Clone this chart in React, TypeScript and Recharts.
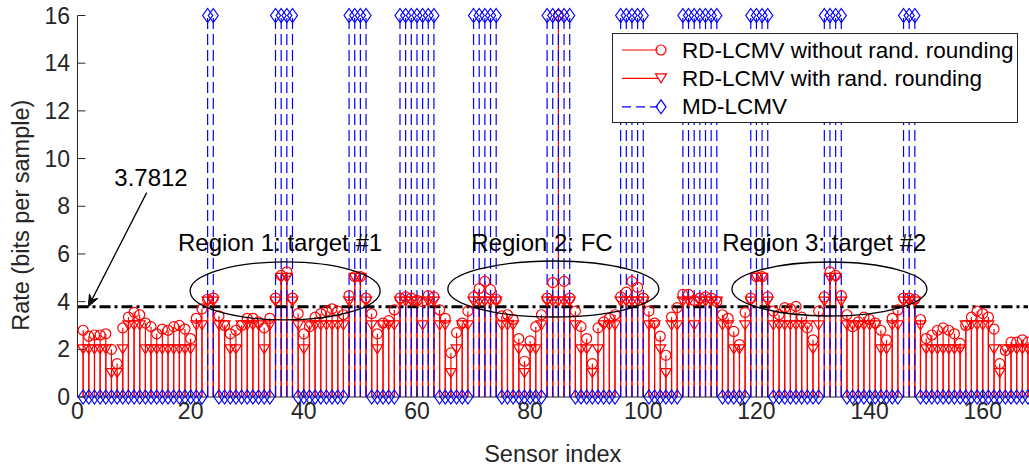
import React from "react";
import { ComposedChart, ErrorBar, ReferenceDot, ReferenceLine, Scatter, XAxis, YAxis } from "recharts";

if (typeof document !== "undefined") document.body.style.margin = "0";

const FONT = '"Liberation Sans", Arial, Helvetica, sans-serif';
const AXIS = "#262626";

// sensor numbers 1..168
const sensors = Array.from({ length: 168 }, (_, i) => i + 1);

// RD-LCMV without randomized rounding (circles)
const rdPlain = [
  2.8, 2.55, 2.6, 2.6, 2.65, 2.0, 1.4, 2.9, 3.35, 3.55,
  3.45, 3.1, 2.95, 2.65, 2.85, 2.8, 2.95, 3.0, 2.85, 2.45,
  3.3, 3.7, 4.1, 4.15, 3.4, 3.0, 2.65, 2.8, 3.0, 3.3,
  3.3, 3.15, 2.9, 3.3, 4.15, 5.1, 5.25, 4.15, 3.5, 2.65,
  2.95, 3.35, 3.5, 3.6, 3.7, 3.6, 3.45, 4.25, 5.05, 5.05,
  4.15, 3.5, 2.65, 3.1, 3.2, 3.65, 4.15, 4.2, 4.15, 4.05,
  4.0, 4.25, 4.2, 3.65, 3.3, 1.85, 2.7, 3.1, 3.6, 4.2,
  4.55, 4.85, 4.5, 4.1, 3.4, 3.45, 3.25, 2.45, 1.5, 2.35,
  2.95, 3.45, 4.15, 4.8, 16, 4.85, 4.15, 3.6, 2.95, 2.45,
  1.4, 2.9, 3.15, 3.3, 3.45, 4.2, 4.4, 4.85, 4.6, 4.15,
  3.6, 3.1, 2.55, 1.75, 3.35, 3.75, 4.3, 4.3, 4.05, 4.15,
  4.2, 4.15, 4.0, 3.45, 3.3, 2.75, 2.2, 3.55, 4.15, 5.05,
  5.05, 4.2, 3.6, 3.45, 3.75, 3.7, 3.8, 3.35, 2.9, 2.4,
  3.6, 4.2, 5.25, 5.1, 4.25, 3.45, 2.95, 3.15, 3.35, 3.25,
  3.1, 2.8, 2.4, 3.3, 3.65, 4.15, 4.15, 4.1, 3.25, 2.45,
  2.6, 2.8, 2.9, 2.8, 2.65, 2.25, 3.0, 3.35, 3.6, 3.5,
  3.35, 2.85, 1.4, 1.95, 2.3, 2.3, 2.4, 2.3
];

// RD-LCMV with randomized rounding (triangles)
const rdRand = [
  2, 2, 2, 2, 2, 1, 1, 2, 3, 3,
  3, 2, 2, 2, 2, 2, 2, 2, 2, 2,
  3, 3, 4, 4, 3, 3, 2, 2, 3, 3,
  3, 3, 2, 3, 4, 5, 5, 4, 3, 2,
  3, 3, 3, 3, 3, 3, 3, 4, 5, 5,
  4, 3, 2, 3, 3, 3, 4, 4, 4, 4,
  3, 4, 4, 3, 3, 1, 2, 3, 3, 4,
  4, 4, 4, 4, 3, 3, 3, 2, 1, 2,
  2, 3, 4, 4, 4, 4, 4, 3, 2, 2,
  1, 2, 3, 3, 3, 4, 4, 4, 4, 4,
  3, 3, 2, 1, 3, 3, 4, 4, 3, 4,
  4, 4, 4, 3, 3, 2, 2, 3, 4, 5,
  5, 4, 3, 3, 3, 3, 3, 3, 3, 2,
  3, 4, 5, 5, 4, 3, 3, 3, 3, 3,
  3, 2, 2, 3, 3, 4, 4, 4, 3, 2,
  2, 2, 2, 2, 2, 2, 3, 3, 3, 3,
  3, 2, 1, 2, 2, 2, 2, 2
];

// sensors where MD-LCMV spends the full 16 bits (others: 0)
const mdFull = [
  23, 24, 35, 36, 37, 38, 48, 49, 50, 51, 57, 58, 59, 60, 61, 62, 63,
  70, 71, 72, 73, 74, 83, 84, 85, 86, 87, 96, 97, 98, 99, 100,
  107, 108, 109, 110, 111, 112, 113, 119, 120, 121, 122, 132, 133, 134, 135,
  146, 147, 148
];
const mdRate = sensors.map((s) => (mdFull.includes(s) ? 16 : 0));

const xTicks = [0, 20, 40, 60, 80, 100, 120, 140, 160];
const yTicks = [0, 2, 4, 6, 8, 10, 12, 14, 16];
const threshold = 3.7812;

const regionNames = ["Region 1: target #1", "Region 2: FC", "Region 3: target #2"];

const toRows = (vals: number[]) => sensors.map((s, i) => ({ x: s, y: vals[i], stem: [vals[i], 0] }));
const plainRows = toRows(rdPlain);
const randRows = toRows(rdRand);
const mdRows = toRows(mdRate);

const RED = "#ff0000";
const BLUE = "#0000ff";

const circleShape = (p: any) => <circle cx={p.cx} cy={p.cy} r={5} fill="none" stroke={RED} strokeWidth={1.2} />;
const triShape = (p: any) => (
  <path d={`M${p.cx - 5.5},${p.cy - 4.5}L${p.cx + 5.5},${p.cy - 4.5}L${p.cx},${p.cy + 4.5}Z`} fill="none" stroke={RED} strokeWidth={1.2} />
);
const diamondShape = (p: any) => (
  <path d={`M${p.cx},${p.cy - 7}L${p.cx + 5},${p.cy}L${p.cx},${p.cy + 7}L${p.cx - 5},${p.cy}Z`} fill="none" stroke={BLUE} strokeWidth={1.2} />
);

const ellipseAt = (rx: number, ry: number) => (p: any) => (
  <ellipse cx={p.cx} cy={p.cy} rx={rx} ry={ry} fill="none" stroke="#000" strokeWidth={1.3} />
);
const textAt = (label: string) => (p: any) => (
  <text x={p.cx} y={p.cy} textAnchor="middle" dominantBaseline="central" fontFamily={FONT} fontSize={24} fill="#000">
    {label}
  </text>
);

const arrowShape = (p: any) => {
  const { x1, y1, x2, y2 } = p;
  const a = Math.atan2(y2 - y1, x2 - x1);
  const L = 13;
  const w = 0.38;
  const hx1 = x2 - L * Math.cos(a - w);
  const hy1 = y2 - L * Math.sin(a - w);
  const hx2 = x2 - L * Math.cos(a + w);
  const hy2 = y2 - L * Math.sin(a + w);
  const bx = x2 - L * 0.6 * Math.cos(a);
  const by = y2 - L * 0.6 * Math.sin(a);
  return (
    <g>
      <line x1={x1} y1={y1} x2={bx} y2={by} stroke="#000" strokeWidth={1.3} />
      <path d={`M${x2},${y2}L${hx1},${hy1}L${bx},${by}L${hx2},${hy2}Z`} fill="#000" stroke="#000" />
    </g>
  );
};

function LegendBox() {
  const rows = [
    { name: "RD-LCMV without rand. rounding", color: RED, dash: undefined, mark: "o" },
    { name: "RD-LCMV with rand. rounding", color: RED, dash: undefined, mark: "v" },
    { name: "MD-LCMV", color: BLUE, dash: "9 5", mark: "d" }
  ];
  return (
    <svg width={407} height={91} style={{ position: "absolute", left: 612, top: 33 }}>
      <rect x={0.5} y={0.5} width={405} height={89} fill="#fff" stroke={AXIS} strokeWidth={1} />
      {rows.map((r, i) => {
        const cy = 17 + i * 28.4;
        return (
          <g key={r.name}>
            <line x1={10} y1={cy} x2={46} y2={cy} stroke={r.color} strokeWidth={1.2} strokeDasharray={r.dash} />
            {r.mark === "o" && circleShape({ cx: 49, cy })}
            {r.mark === "v" && triShape({ cx: 49, cy })}
            {r.mark === "d" && diamondShape({ cx: 49, cy })}
            <text x={70} y={cy} dominantBaseline="central" fontFamily={FONT} fontSize={22.5} fill="#000">
              {r.name}
            </text>
          </g>
        );
      })}
    </svg>
  );
}

const yLabel = (p: any) => {
  const vb = p.viewBox;
  const cx = vb.x + 21;
  const cy = vb.y + vb.height / 2 + 9;
  return (
    <text x={cx} y={cy} transform={`rotate(-90 ${cx} ${cy})`} textAnchor="middle" dominantBaseline="central" fontFamily={FONT} fontSize={23.5} fill={AXIS}>
      Rate (bits per sample)
    </text>
  );
};

const xLabel = (p: any) => {
  const vb = p.viewBox;
  return (
    <text x={vb.x + vb.width / 2} y={vb.y + 57} textAnchor="middle" dominantBaseline="central" fontFamily={FONT} fontSize={23.5} fill={AXIS}>
      Sensor index
    </text>
  );
};

export default function App() {
  const tickStyle = { fill: AXIS, fontSize: 23, fontFamily: FONT };
  return (
    <div style={{ position: "relative", width: 1029, height: 466, background: "#fff" }}>
      <ComposedChart width={1029} height={466} margin={{ top: 15.5, right: 1, bottom: 0, left: 0 }}>
        <XAxis
          dataKey="x"
          type="number"
          domain={[0, 168]}
          ticks={xTicks}
          height={69}
          stroke={AXIS}
          tickSize={-8}
          tickMargin={14}
          tick={tickStyle}
          label={xLabel}
        />
        <XAxis xAxisId="top" orientation="top" dataKey="x" type="number" domain={[0, 168]} ticks={xTicks} height={0} stroke={AXIS} tickSize={-8} tick={false} />
        <YAxis
          dataKey="y"
          type="number"
          domain={[0, 16]}
          ticks={yTicks}
          width={77.5}
          stroke={AXIS}
          tickSize={-8}
          tickMargin={15.5}
          tick={tickStyle}
          label={yLabel}
        />
        <YAxis yAxisId="right" orientation="right" dataKey="y" type="number" domain={[0, 16]} ticks={yTicks} width={0} stroke={AXIS} tickSize={-8} tick={false} />

        <Scatter data={plainRows} shape={circleShape} isAnimationActive={false}>
          <ErrorBar dataKey="stem" direction="y" width={0} stroke={RED} strokeWidth={1.2} isAnimationActive={false} />
        </Scatter>
        <Scatter data={randRows} shape={triShape} isAnimationActive={false}>
          <ErrorBar dataKey="stem" direction="y" width={0} stroke={RED} strokeWidth={1.2} isAnimationActive={false} />
        </Scatter>
        <Scatter data={mdRows} shape={diamondShape} isAnimationActive={false}>
          <ErrorBar dataKey="stem" direction="y" width={0} stroke={BLUE} strokeWidth={1.2} strokeDasharray="11 5" isAnimationActive={false} />
        </Scatter>

        <ReferenceLine y={threshold} stroke="#000" strokeWidth={3} strokeDasharray="11 4 3 4" />

        <ReferenceDot x={36.7} y={4.45} r={0} shape={ellipseAt(95, 29)} />
        <ReferenceDot x={84.1} y={4.53} r={0} shape={ellipseAt(105.5, 28)} />
        <ReferenceDot x={132.9} y={4.53} r={0} shape={ellipseAt(97.5, 27)} />
        <ReferenceDot x={35.8} y={6.5} r={0} shape={textAt(regionNames[0])} />
        <ReferenceDot x={82.1} y={6.5} r={0} shape={textAt(regionNames[1])} />
        <ReferenceDot x={132.0} y={6.5} r={0} shape={textAt(regionNames[2])} />

        <ReferenceDot x={12.99} y={9.19} r={0} shape={textAt(String(threshold))} />
        <ReferenceLine
          segment={[
            { x: 12.23, y: 8.57 },
            { x: 1.9, y: threshold }
          ]}
          shape={arrowShape}
        />
      </ComposedChart>
      <LegendBox />
    </div>
  );
}
